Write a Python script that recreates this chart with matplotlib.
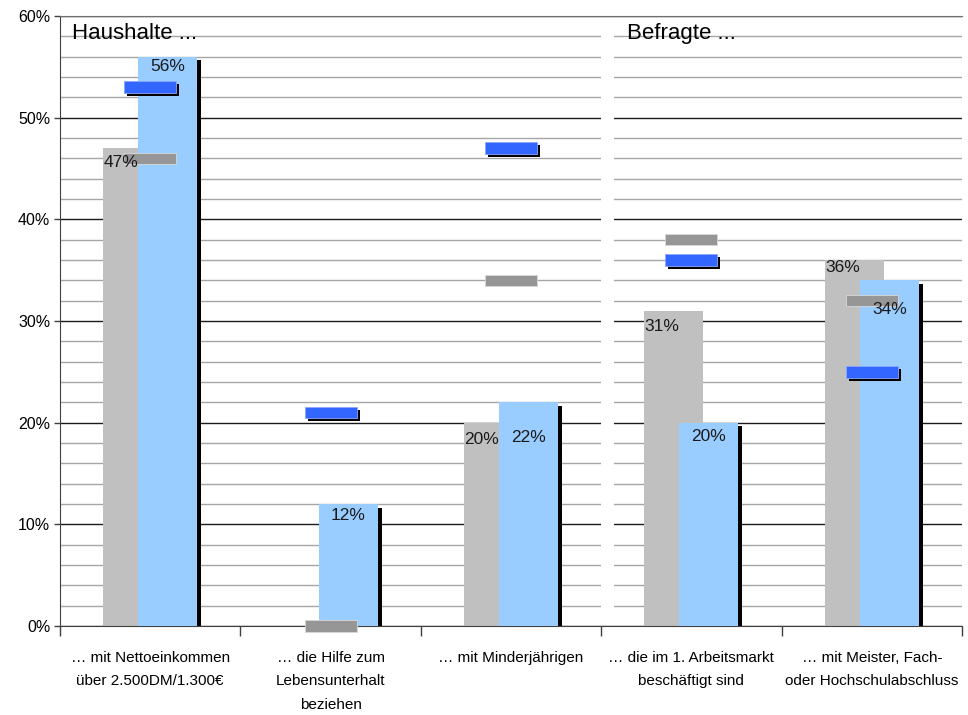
import numpy as np
import matplotlib.pyplot as plt
from matplotlib.ticker import MultipleLocator, FixedLocator, FuncFormatter

plt.rcParams['font.family'] = ['Liberation Sans', 'DejaVu Sans']

categories = ["… mit Nettoeinkommen\nüber 2.500DM/1.300€",
              "… die Hilfe zum\nLebensunterhalt\nbeziehen",
              "… mit Minderjährigen",
              "… die im 1. Arbeitsmarkt\nbeschäftigt sind",
              "… mit Meister, Fach-\noder Hochschulabschluss"]
gray_bars = [47, 0, 20, 31, 36]
blue_bars = [56, 12, 22, 20, 34]
gray_marks = [46, 0, 34, 38, 32]
blue_marks = [53, 21, 47, 36, 25]

# label drop below bar top (pixels)
gray_drop = [14, 0, 17, 16, 8]
blue_drop = [9.5, 11, 35, 14, 29]

c_gray = '#c0c0c0'
c_blue = '#99ccff'
c_gmark = '#969696'
c_bmark = '#3366ff'

fig = plt.figure(figsize=(9.68, 7.15), dpi=100)
ax = fig.add_axes([60/968, 89/715, 902/968, 610/715])

x = np.arange(len(categories))
w = 0.327
px = 1/180.4          # one pixel in x data units
py = 60/610           # one pixel in y data units

# gridlines
ax.set_ylim(0, 60)
ax.set_xlim(-0.5, 4.5)
ax.yaxis.set_major_locator(MultipleLocator(10))
ax.yaxis.set_minor_locator(MultipleLocator(2))
ax.grid(axis='y', which='minor', color='#a6a6a6', lw=1.0, zorder=0.5)
ax.grid(axis='y', which='major', color='#1a1a1a', lw=1.0, zorder=0.6)
ax.set_axisbelow(True)

# white gap between the two groups
ax.axvspan(2.5, 2.5 + 13*px, ymin=0.006, ymax=0.995, color='white', lw=0, zorder=1)

gx = x - 47*px + w/2
bx = x - 12*px + w/2
ax.bar(gx, gray_bars, width=w, color=c_gray, zorder=2)
ax.bar(bx + 4*px, np.array(blue_bars) - 3.5*py, width=w, color='black', zorder=2.5)
ax.bar(bx, blue_bars, width=w, color=c_blue, zorder=3)

mh = 11.5*py
mw = 52*px
ax.bar(x, mh, bottom=np.array(gray_marks) - mh/2, width=mw, color=c_gmark,
       edgecolor='#d8d8d8', lw=0.6, zorder=4, clip_on=False)
ax.bar(x + 3*px, mh, bottom=np.array(blue_marks) - mh/2 - 3*py, width=mw,
       color='black', zorder=4.5, clip_on=False)
ax.bar(x, mh, bottom=np.array(blue_marks) - mh/2, width=mw, color=c_bmark,
       edgecolor='#8aa8ff', lw=0.6, zorder=5, clip_on=False)

# value labels
for i in range(len(categories)):
    if gray_bars[i] > 0:
        ax.text(x[i] - 29.5*px, gray_bars[i] - gray_drop[i]*py, f"{gray_bars[i]}%",
                ha='center', va='center', fontsize=12.5, color='#1a1a1a', zorder=6)
    ax.text(bx[i], blue_bars[i] - blue_drop[i]*py, f"{blue_bars[i]}%",
            ha='center', va='center', fontsize=12.5, color='#1a1a1a', zorder=6)

ax.text(-0.5 + 12*px, 58.3, "Haushalte ...", ha='left', va='center', fontsize=16, zorder=6)
ax.text(2.5 + 26*px, 58.3, "Befragte ...", ha='left', va='center', fontsize=16, zorder=6)

# axes styling
ax.yaxis.set_major_formatter(FuncFormatter(lambda v, p: f"{v:.0f}%"))
ax.tick_params(axis='y', which='major', length=4, width=1, color='#404040',
               labelsize=11.5, pad=3)
ax.tick_params(axis='y', which='minor', length=0)
ax.set_xticks(x)
ax.set_xticklabels(categories, fontsize=11, linespacing=1.85, va='top')
ax.xaxis.set_minor_locator(FixedLocator(np.arange(-0.5, 5, 1)))
ax.tick_params(axis='x', which='major', length=0, pad=18)
ax.tick_params(axis='x', which='minor', length=7, width=1, color='#404040')

ax.spines['right'].set_visible(False)
ax.spines['top'].set_color('#707070')
ax.spines['left'].set_color('#404040')
ax.spines['bottom'].set_color('#404040')

fig.savefig('out.png', dpi=100)
